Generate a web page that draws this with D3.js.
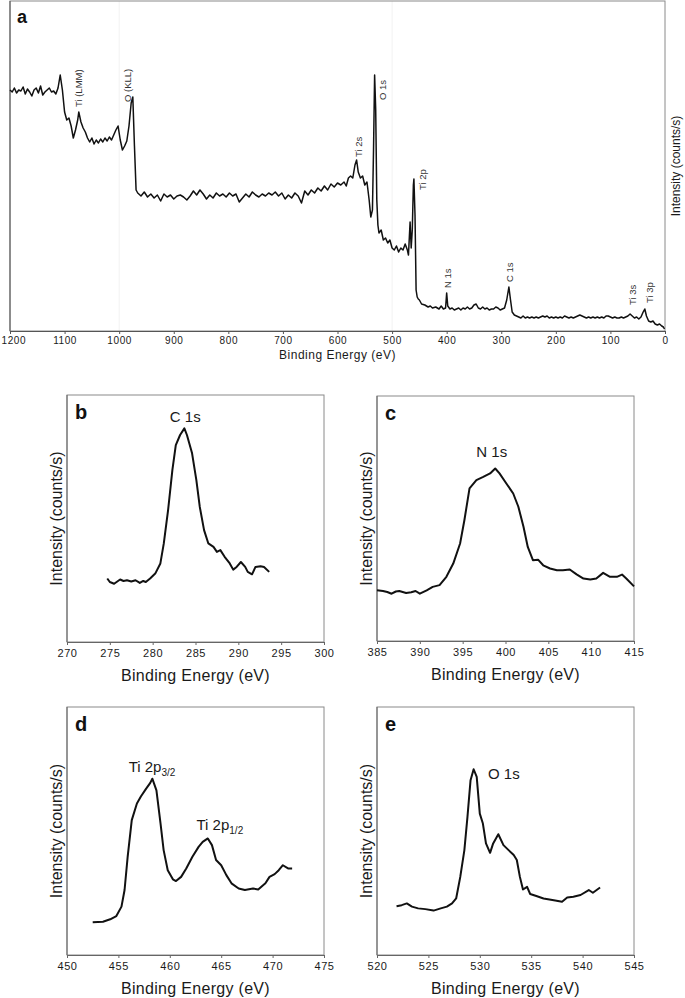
<!DOCTYPE html>
<html><head><meta charset="utf-8">
<script src="https://cdn.jsdelivr.net/npm/d3@7"></script>
<style>body{margin:0;background:#fff}svg{display:block}text{font-family:"Liberation Sans",Arial,sans-serif}</style>
</head><body>
<svg id="c" width="685" height="998"></svg>
<script>
// ---- Panel a: survey spectrum (binding energy, relative intensity)
const surveyBE = [1200,1196,1192,1188,1184,1180,1176,1172,1168,1164,1160,1156,1152,1148,1144,1140,1136,1132,1128,1124,1120,1116,1112,1108,1104,1100,1096,1092,1088,1084,1080,1076,1074,1070,1066,1062,1058,1054,1050,1046,1042,1038,1034,1030,1026,1022,1018,1014,1010,1006,1002,998,994,990,986,982,978,975,972,969,966,
960,954,948,942,936,930,924,918,912,906,900,894,888,882,876,870,864,858,852,846,840,834,828,822,816,810,804,798,792,786,780,774,768,762,756,750,744,738,732,726,720,714,708,702,696,690,684,678,672,666,660,654,648,642,636,630,624,618,612,606,600,594,588,584,580,576,572,568,565,562,558,554,550,546,542,539,536,534,532,530,528,526,524,520,516,512,508,504,500,496,492,488,484,480,476,472,470,467,465,463,461,460,458,456,454,452,450,446,440,434,430,426,420,414,410,406,402,400,398,394,390,386,382,378,374,370,366,362,358,354,350,346,342,338,334,330,326,322,318,314,310,306,302,298,294,290,286,283,280,276,272,268,264,260,256,252,248,244,240,236,232,228,224,220,216,212,208,204,200,196,192,188,184,180,176,172,168,164,160,156,152,148,144,140,136,132,128,124,120,116,112,108,104,100,96,92,88,84,80,76,72,68,64,60,56,52,48,44,40,37,34,30,26,22,18,14,10,6,3,1];
const surveyI = [241,239,243,238,241,240,244,237,242,239,235,241,243,238,245,236,239,241,243,239,240,237,243,256,241,219,211,213,205,193,201,211,219,209,203,199,193,189,193,187,191,188,192,189,193,190,194,191,196,201,205,191,181,185,190,205,228,234,185,141,138,
135,139,134,137,133,136,130,137,134,136,132,135,136,134,131,135,140,136,141,137,132,136,133,138,135,137,134,138,135,137,129,133,137,134,139,136,134,137,135,138,136,139,135,138,132,136,133,138,135,128,140,136,141,138,143,140,145,141,147,144,148,146,149,145,153,155,153,166,171,159,153,155,146,149,131,114,121,181,256,221,131,106,98,101,91,93,88,91,83,81,85,79,83,81,87,81,76,109,83,101,146,152,116,41,34,32,31,27,26,24,25,23,24,22,25,22,23,38,25,22,23,21,22,23,21,23,22,24,22,23,26,27,23,22,24,22,23,21,22,22,24,23,21,22,23,31,44,31,19,16,15,14,13,15,13,14,13,14,13,14,13,14,15,14,15,13,14,13,14,13,14,13,15,14,13,14,13,14,15,16,15,14,13,14,13,14,13,14,13,14,13,15,15,14,13,14,13,13,14,13,14,15,17,15,13,14,12,14,19,22,15,10,9,10,7,6,7,5,4,2];
const surveyTicks = [1200,1100,1000,900,800,700,600,500,400,300,200,100,0];
const surveyLabels = [
  {be:1075, text:"Ti (LMM)", at:224},
  {be:984,  text:"O (KLL)", at:229},
  {be:562,  text:"Ti 2s", at:174},
  {be:517,  text:"O 1s", at:231},
  {be:445,  text:"Ti 2p", at:141},
  {be:399,  text:"N 1s", at:43},
  {be:284,  text:"C 1s", at:49},
  {be:60,   text:"Ti 3s", at:26},
  {be:29,   text:"Ti 3p", at:28}
];

// ---- Panel b: C 1s
const c1sBE = [274.7,275.0,275.5,276.2,276.6,277.0,277.5,278.0,278.5,278.9,279.2,279.7,280.3,280.9,281.3,281.8,282.3,282.7,283.2,283.7,284.0,284.6,285.1,285.5,286.0,286.5,287.1,287.5,287.9,288.4,289.0,289.4,289.8,290.3,290.8,291.1,291.6,292.0,292.6,293.0,293.6];
const c1sI = [25.7,24.3,23.6,25.3,24.7,25.0,24.5,25.0,23.9,24.7,24.3,25.7,27.7,31.8,39.9,53.4,69.6,79.7,83.8,86.5,83.8,76.4,65.5,54.7,45.3,39.9,38.5,36.5,37.2,34.5,31.8,29.3,30.4,32.4,30.4,28.4,27.4,30.4,30.7,30.4,28.4];
// ---- Panel c: N 1s
const n1sBE = [385.0,385.7,386.2,386.7,387.2,387.6,388.4,389.0,389.5,390.0,390.8,391.5,392.3,393.1,393.9,394.7,395.2,395.8,396.6,397.4,398.2,398.8,399.3,400.1,400.9,401.5,402.1,402.6,403.2,403.8,404.4,405.2,406.0,406.7,407.5,408.3,409.1,409.9,410.6,411.4,412.2,413.0,413.6,414.1,415.0];
const n1sI = [20.7,20.4,20.0,19.3,20.2,20.4,19.6,19.9,20.4,19.3,20.7,22.1,22.8,26.2,31.6,39.8,49.3,62.3,65.7,67.0,68.4,70.4,68.4,64.3,60.2,54.8,46.6,38.4,33.0,33.2,30.9,29.6,28.9,28.9,29.2,27.2,25.5,25.1,25.5,27.8,26.2,26.2,27.1,25.5,22.3];
// ---- Panel d: Ti 2p
const ti2pBE = [452.5,453.5,454.2,454.8,455.3,455.6,455.9,456.3,456.8,457.2,457.7,458.1,458.3,458.7,459.1,459.4,459.8,460.3,460.6,461.1,461.6,462.2,462.8,463.2,463.7,464.1,464.5,465.0,465.5,466.0,466.7,467.3,468.1,468.6,469.3,469.7,470.2,470.6,471.0,471.5,471.9];
const ti2pI = [13.2,13.4,14.4,15.7,19.5,26.2,39.6,54.4,61.1,64.0,67.1,69.4,71.1,66.4,53.0,42.3,34.2,30.5,29.8,31.5,34.9,39.6,43.6,45.6,47.0,44.3,38.3,36.2,32.2,28.9,26.8,26.2,26.8,26.4,28.9,31.5,32.6,34.2,36.2,34.9,34.9];
// ---- Panel e: O 1s
const o1sBE = [521.9,522.4,522.9,523.4,524.0,524.7,525.5,526.2,526.8,527.3,527.7,528.1,528.5,528.8,529.1,529.4,529.7,530.0,530.3,530.6,531.0,531.3,531.8,532.3,532.8,533.3,533.6,533.9,534.2,534.6,534.9,535.5,536.2,537.2,538.0,538.5,539.1,539.8,540.6,541.0,541.7];
const o1sI = [19.7,20.1,20.8,19.5,18.8,18.5,17.9,18.8,19.5,20.8,22.8,31.5,42.3,55.7,70.5,74.9,71.8,57.0,53.0,45.0,41.2,45.0,48.7,44.3,42.3,40.3,38.3,31.5,26.4,27.5,24.6,23.8,22.8,22.1,21.5,23.2,23.5,24.2,26.2,25.1,27.2];

const svg = d3.select("#c");
const TXT = "#1a1a1a";

// ===== Panel a =====
(function(){
  const L=10,R=665,T=1,B=331;
  const x = d3.scaleLinear().domain([1200,0]).range([L,R]);
  const y = d3.scaleLinear().domain([0,330]).range([B,T]);
  const g = svg.append("g");
  g.selectAll("line.grid").data([1000,500]).join("line")
    .attr("x1",d=>x(d)).attr("x2",d=>x(d)).attr("y1",T).attr("y2",B)
    .attr("stroke","#f2f2f2").attr("stroke-width",1);
  g.append("rect").attr("x",L).attr("y",T).attr("width",R-L).attr("height",B-T)
    .attr("fill","none").attr("stroke","#8a8a8a").attr("stroke-width",1);
  const ax = d3.axisBottom(x).tickValues(surveyTicks).tickSize(3).tickPadding(3).tickFormat(d3.format("d"));
  const axg = g.append("g").attr("transform",`translate(0,${B})`).call(ax);
  axg.select(".domain").attr("stroke","#555");
  axg.selectAll(".tick line").attr("stroke","#555");
  axg.selectAll("text").attr("font-size",10).attr("fill",TXT).attr("letter-spacing","0.6px");
  axg.selectAll(".tick").filter(d=>d===1200).select("text").attr("text-anchor","start").attr("x",-9);
  g.append("line").attr("x1",L).attr("x2",L).attr("y1",T).attr("y2",B).attr("stroke","#555");
  const pts = surveyBE.map((b,i)=>[b,surveyI[i]]);
  g.append("path").datum(pts).attr("fill","none").attr("stroke","#111").attr("stroke-width",1.5)
    .attr("stroke-linejoin","round")
    .attr("d",d3.line().x(d=>x(d[0])).y(d=>y(d[1])));
  g.selectAll("text.pk").data(surveyLabels).join("text")
    .attr("transform",d=>`translate(${x(d.be)+3.5},${y(d.at)}) rotate(-90)`)
    .attr("font-size",9.5).attr("fill","#333").text(d=>d.text);
  g.append("text").attr("x",17).attr("y",23).attr("font-size",18).attr("font-weight","bold").attr("fill","#111").text("a");
  g.append("text").attr("x",(L+R)/2).attr("y",359).attr("text-anchor","middle").attr("font-size",12).attr("fill",TXT).attr("letter-spacing","0.5px").text("Binding Energy (eV)");
  g.append("text").attr("transform",`translate(680,${(T+B)/2}) rotate(-90)`).attr("text-anchor","middle").attr("font-size",12).attr("fill",TXT).text("Intensity (counts/s)");
})();

// ===== small panels =====
function panel(o){
  const {L,R,T,B,dom,ticks,be,inten,letter} = o;
  const x = d3.scaleLinear().domain(dom).range([L,R]);
  const y = d3.scaleLinear().domain([0,100]).range([B,T]);
  const g = svg.append("g");
  g.append("rect").attr("x",L).attr("y",T).attr("width",R-L).attr("height",B-T)
    .attr("fill","none").attr("stroke","#8a8a8a").attr("stroke-width",1);
  const axg = g.append("g").attr("transform",`translate(0,${B})`)
    .call(d3.axisBottom(x).tickValues(ticks).tickSize(3).tickPadding(4).tickFormat(d3.format("d")));
  axg.select(".domain").attr("stroke","#666");
  axg.selectAll(".tick line").attr("stroke","#666");
  axg.selectAll("text").attr("font-size",11).attr("fill",TXT).attr("letter-spacing","0.6px");
  g.append("line").attr("x1",L).attr("x2",L).attr("y1",T).attr("y2",B).attr("stroke","#666");
  const pts = be.map((b,i)=>[b,inten[i]]);
  g.append("path").datum(pts).attr("fill","none").attr("stroke","#111").attr("stroke-width",2)
    .attr("stroke-linejoin","round")
    .attr("d",d3.line().x(d=>x(d[0])).y(d=>y(d[1])));
  g.append("text").attr("x",L+8).attr("y",T+24).attr("font-size",20).attr("font-weight","bold").attr("fill","#111").text(letter);
  g.append("text").attr("x",(L+R)/2).attr("y",B+39).attr("text-anchor","middle").attr("font-size",16).attr("fill",TXT).attr("letter-spacing","0.3px").text("Binding Energy (eV)");
  g.append("text").attr("transform",`translate(${L-5},${(T+B)/2}) rotate(-90)`).attr("text-anchor","middle").attr("font-size",16).attr("fill",TXT).text("Intensity (counts/s)");
  return {g,x,y};
}

const pb = panel({L:67,R:324,T:395,B:642,dom:[270,300],ticks:[270,275,280,285,290,295,300],be:c1sBE,inten:c1sI,letter:"b"});
pb.g.append("text").attr("x",pb.x(283.8)).attr("y",pb.y(89)).attr("text-anchor","middle").attr("font-size",15).attr("fill",TXT).text("C 1s");

const pc = panel({L:377,R:634,T:396,B:641,dom:[385,415],ticks:[385,390,395,400,405,410,415],be:n1sBE,inten:n1sI,letter:"c"});
pc.g.append("text").attr("x",pc.x(398.4)).attr("y",pc.y(75)).attr("text-anchor","middle").attr("font-size",15).attr("fill",TXT).text("N 1s");

const pd = panel({L:67,R:324,T:707,B:955,dom:[450,475],ticks:[450,455,460,465,470,475],be:ti2pBE,inten:ti2pI,letter:"d"});
const t1 = pd.g.append("text").attr("x",pd.x(456)).attr("y",pd.y(73.8)).attr("font-size",15).attr("fill",TXT);
t1.append("tspan").text("Ti 2p");
t1.append("tspan").attr("font-size",10).attr("dy",4).text("3/2");
const t2 = pd.g.append("text").attr("x",pd.x(462.6)).attr("y",pd.y(50.4)).attr("font-size",15).attr("fill",TXT);
t2.append("tspan").text("Ti 2p");
t2.append("tspan").attr("font-size",10).attr("dy",4).text("1/2");

const pe = panel({L:377,R:634,T:707,B:955,dom:[520,545],ticks:[520,525,530,535,540,545],be:o1sBE,inten:o1sI,letter:"e"});
pe.g.append("text").attr("x",pe.x(530.8)).attr("y",pe.y(71)).attr("font-size",15).attr("fill",TXT).text("O 1s");
</script>
</body></html>
